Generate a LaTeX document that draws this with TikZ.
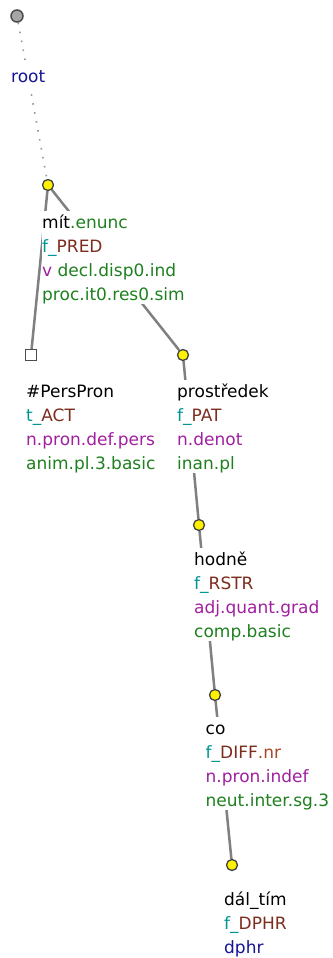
\documentclass[tikz,border=0pt]{standalone}
\usepackage{fontspec}
\setmainfont{DejaVu Sans}
\usetikzlibrary{backgrounds}
\definecolor{cteal}{RGB}{0,150,150}
\definecolor{cbrown}{RGB}{125,45,30}
\definecolor{cnr}{RGB}{170,70,40}
\definecolor{cpurple}{RGB}{160,32,160}
\definecolor{cgreen}{RGB}{30,128,30}
\definecolor{cnavy}{RGB}{20,20,150}
\definecolor{cedge}{RGB}{128,128,128}
\tikzset{
  lbl/.style={anchor=north west, align=left, inner sep=0pt, fill=white,
    font=\fontsize{17}{24}\selectfont},
  tnode/.style={circle, draw=black!75, line width=1.3pt, fill=yellow, minimum size=11pt, inner sep=0pt},
  rootnode/.style={circle, draw=black!70, line width=1.5pt, fill=black!35, minimum size=12pt, inner sep=0pt},
  sqnode/.style={rectangle, draw=black!70, line width=1.3pt, fill=white, minimum size=11pt, inner sep=0pt},
  edge/.style={draw=cedge, line width=2.5pt},
  dotedge/.style={draw=black!40, line width=1.6pt, dash pattern=on 1.6pt off 7.5pt},
}
\begin{document}
\begin{tikzpicture}[x=1pt,y=-1pt]
\useasboundingbox (0,0) rectangle (332,958);
% tree nodes
\node[rootnode] (root) at (17,16) {};
\node[tnode] (mit) at (48,185) {};
\node[sqnode] (pers) at (31,355) {};
\node[tnode] (pros) at (183,355) {};
\node[tnode] (hodne) at (199,525) {};
\node[tnode] (co) at (215,695) {};
\node[tnode] (dal) at (232,865) {};
% labels
\node[lbl] (lroot) at (11,82-16.8) {\strut\textcolor{cnavy}{root}};
\node[lbl] (lmit) at (42,228-16.8) {\strut mít\textcolor{cgreen}{.enunc}\\
  \textcolor{cteal}{f\_}\textcolor{cbrown}{PRED}\\
  \textcolor{cpurple}{v} \textcolor{cgreen}{decl.disp0.ind}\\
  \textcolor{cgreen}{proc.it0.res0.sim}};
\node[lbl] (lpers) at (26,397-16.8) {\strut\#PersPron\\
  \textcolor{cteal}{t\_}\textcolor{cbrown}{ACT}\\
  \textcolor{cpurple}{n.pron.def.pers}\\
  \textcolor{cgreen}{anim.pl.3.basic}};
\node[lbl] (lpros) at (177,397-16.8) {\strut prostředek\\
  \textcolor{cteal}{f\_}\textcolor{cbrown}{PAT}\\
  \textcolor{cpurple}{n.denot}\\
  \textcolor{cgreen}{inan.pl}};
\node[lbl] (lhodne) at (194,565-16.8) {\strut hodně\\
  \textcolor{cteal}{f\_}\textcolor{cbrown}{RSTR}\\
  \textcolor{cpurple}{adj.quant.grad}\\
  \textcolor{cgreen}{comp.basic}};
\node[lbl] (lco) at (205.5,734-16.8) {\strut co\\
  \textcolor{cteal}{f\_}\textcolor{cbrown}{DIFF}\textcolor{cnr}{.nr}\\
  \textcolor{cpurple}{n.pron.indef}\\
  \textcolor{cgreen}{neut.inter.sg.3}};
\node[lbl] (ldal) at (224,905-16.8) {\strut dál\_tím\\
  \textcolor{cteal}{f\_}\textcolor{cbrown}{DPHR}\\
  \textcolor{cnavy}{dphr}};
% edges
\begin{pgfonlayer}{background}
\draw[dotedge] (root) -- (mit);
\draw[edge] (mit) -- (pers);
\draw[edge] (mit) -- (pros);
\draw[edge] (pros) -- (hodne);
\draw[edge] (hodne) -- (co);
\draw[edge] (co) -- (dal);
\end{pgfonlayer}
\end{tikzpicture}
\end{document}
